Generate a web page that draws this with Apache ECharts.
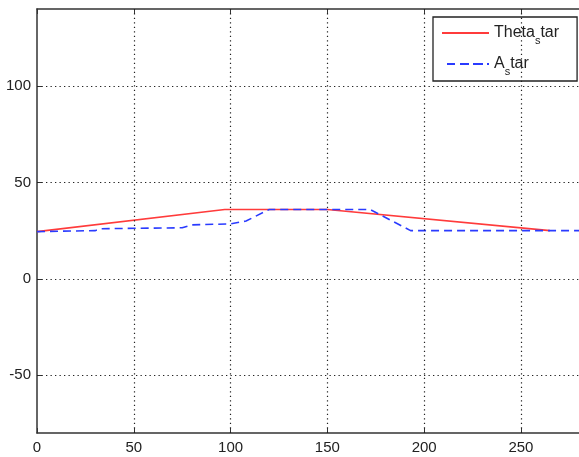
<!DOCTYPE html>
<html>
<head>
<meta charset="utf-8">
<script src="https://cdn.jsdelivr.net/npm/echarts@6/dist/echarts.min.js"></script>
<style>html,body{margin:0;padding:0;background:#fff}#c{width:579px;height:457px}</style>
</head>
<body>
<div id="c"></div>
<script>
var thetaX = [0, 97, 150, 265];
var thetaY = [24.5, 36, 36, 25];
var aX = [0, 30, 33, 75, 80, 100, 108, 120, 172, 193, 280];
var aY = [24.5, 25, 26, 26.5, 28, 28.5, 30, 36, 36, 25, 25];
var xTicks = [0, 50, 100, 150, 200, 250];
var yTicks = [-50, 0, 50, 100];

function pairs(xs, ys){ return xs.map(function(x,i){ return [x, ys[i]]; }); }

var font = 'Liberation Sans, Arial, sans-serif';
var gridStyle = {color: '#222', type: [1.3, 3.2], width: 1.2};
var gridLines = xTicks.filter(function(v){ return v > 0; }).map(function(v){ return {xAxis: v}; })
  .concat(yTicks.map(function(v){ return {yAxis: v}; }));

var chart = echarts.init(document.getElementById('c'));
chart.setOption({
  animation: false,
  backgroundColor: '#fff',
  grid: {left: 37, top: 9, right: 0, bottom: 24, containLabel: false},
  xAxis: [{
    type: 'value', min: 0, max: 280,
    axisLine: {show: true, onZero: false, lineStyle: {color: '#333', width: 1.5}},
    axisTick: {show: true, inside: true, length: 5, lineStyle: {color: '#333'}, customValues: xTicks},
    axisLabel: {color: '#222', fontSize: 15, fontFamily: font, margin: 7, customValues: xTicks},
    splitLine: {show: false}
  }, {
    type: 'value', position: 'top', min: 0, max: 280,
    axisLine: {show: true, onZero: false, lineStyle: {color: '#333', width: 1.5}},
    axisTick: {show: true, inside: true, length: 5, lineStyle: {color: '#333'}, customValues: xTicks},
    axisLabel: {show: false}, splitLine: {show: false}
  }],
  yAxis: [{
    type: 'value', min: -80, max: 140,
    axisLine: {show: true, onZero: false, lineStyle: {color: '#333', width: 1.5}},
    axisTick: {show: true, inside: true, length: 5, lineStyle: {color: '#333'}, customValues: yTicks},
    axisLabel: {color: '#222', fontSize: 15, fontFamily: font, margin: 6, customValues: yTicks},
    splitLine: {show: false}
  }],
  legend: {
    show: true, orient: 'vertical', left: 433, top: 17,
    itemWidth: 47, itemHeight: 16, itemGap: 10,
    padding: [8, 18, 4, 9],
    backgroundColor: '#fff', borderColor: '#222', borderWidth: 1.3,
    textStyle: {color: '#222', fontSize: 16, fontFamily: font,
      rich: {
        m: {fontSize: 16, fontFamily: font, color: '#222'},
        sub: {fontSize: 11, fontFamily: font, color: '#222', verticalAlign: 'bottom', padding: [15, 0, 0, 0]}
      }},
    formatter: function(n){ return n === 'Theta_s tar' ? '{m|Theta}{sub|s}{m|tar}' : '{m|A}{sub|s}{m|tar}'; },
    data: [
      {name: 'Theta_s tar', icon: 'path://M0,0L47,0L47,2L0,2Z'},
      {name: 'A_s tar', icon: 'path://M0,1L0.01,1L0.01,1.01L0,1.01ZM5,0L13,0L13,2L5,2ZM18,0L27,0L27,2L18,2ZM31,0L41,0L41,2L31,2ZM45,0L47,0L47,2L45,2Z'}
    ]
  },
  series: [
    {name: 'grid', type: 'line', data: [], silent: true,
     markLine: {silent: true, symbol: ['none', 'none'], label: {show: false},
       lineStyle: gridStyle, emphasis: {disabled: true}, data: gridLines}},
    {name: 'Theta_s tar', type: 'line', data: pairs(thetaX, thetaY), showSymbol: false,
     lineStyle: {color: '#ff3b3b', width: 1.6}, itemStyle: {color: '#ff3b3b'}},
    {name: 'A_s tar', type: 'line', data: pairs(aX, aY), showSymbol: false,
     lineStyle: {color: '#2a3bff', width: 1.6, type: [8, 5]}, itemStyle: {color: '#2a3bff'}}
  ]
});
</script>
</body>
</html>
